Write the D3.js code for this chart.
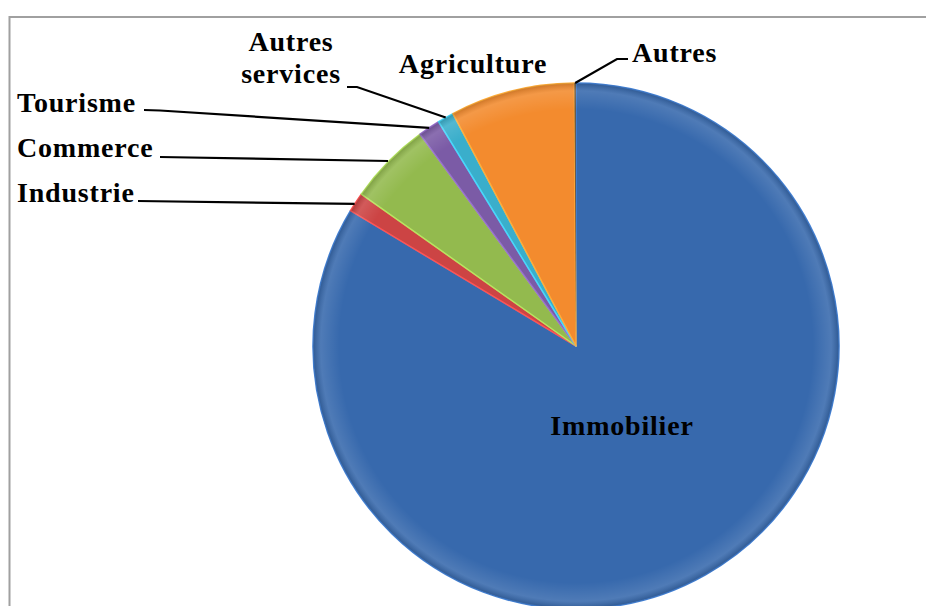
<!DOCTYPE html>
<html><head><meta charset="utf-8">
<script src="https://cdn.jsdelivr.net/npm/d3@7"></script>
<style>body{margin:0;background:#fff}svg{display:block}text{font-family:"Liberation Serif","Times New Roman",serif;font-weight:bold;fill:#000;letter-spacing:0.8px}</style>
</head><body><svg id="c" width="926" height="606"></svg>
<script>
const categories = ["Immobilier","Industrie","Commerce","Tourisme","Autres services","Agriculture","Autres"];
const values = [83.6, 1.2, 5.1, 1.35, 1.0, 7.65, 0.1];
const colors = ["#3769ad","#cc4444","#93ba4e","#7b5ba6","#3aaecb","#f38b2e","#6a5a4a"];

const svg = d3.select("#c");
const cx = 576, cy = 346, r = 263;

svg.append("rect").attr("x",9.5).attr("y",17).attr("width",930).attr("height",600)
  .attr("fill","#fff").attr("stroke","#a0a0a0").attr("stroke-width",2);

const defs = svg.append("defs");
const rg = defs.append("radialGradient").attr("id","shade").attr("gradientUnits","userSpaceOnUse")
  .attr("cx",cx).attr("cy",cy).attr("r",r);
rg.append("stop").attr("offset","0.9").attr("stop-color","#fff").attr("stop-opacity",0);
rg.append("stop").attr("offset","0.97").attr("stop-color","#fff").attr("stop-opacity",0.12);
rg.append("stop").attr("offset","1").attr("stop-color","#000").attr("stop-opacity",0.15);

const pie = d3.pie().sort(null).value(d=>d.v);
const data = pie(categories.map((c,i)=>({c, v:values[i], col:colors[i]})));
const arc = d3.arc().innerRadius(0).outerRadius(r);
const g = svg.append("g").attr("transform",`translate(${cx},${cy})`);
g.selectAll("path.s").data(data).join("path").attr("class","s")
  .attr("d",arc).attr("fill",d=>d.data.col)
  .attr("stroke",(d,i)=> i===6 ? "none" : d3.color(d.data.col).brighter(0.6)).attr("stroke-width",1.5).attr("stroke-linejoin","round");
g.append("circle").attr("r",r).attr("fill","url(#shade)").attr("transform",`translate(${-cx},${-cy})`).attr("cx",cx).attr("cy",cy);

function edge(i, frac){
  const d = data[i];
  const a = d.startAngle + (d.endAngle - d.startAngle)*frac;
  return [cx + r*Math.sin(a), cy - r*Math.cos(a)];
}
const fs = 28;
const lab = svg.append("g");
function text(t,x,y,anchor){ lab.append("text").attr("x",x).attr("y",y).attr("font-size",fs).attr("text-anchor",anchor||"start").text(t); }
function line(pts){ lab.append("path").attr("d",d3.line()(pts)).attr("fill","none").attr("stroke","#000").attr("stroke-width",2.2); }

text(categories[0], 622, 435, "middle");
text(categories[1], 17, 202);
line([[138,201], edge(1,0.4)]);
text(categories[2], 17, 157);
line([[160,157],[388,161]]);
text(categories[3], 17, 112);
line([[144,110],[160,110.5], edge(3,0.5)]);
text("Autres", 291, 51, "middle");
text("services", 291, 83, "middle");
line([[347,87],[357,87], edge(4,0.5)]);
text(categories[5], 473, 73, "middle");
text(categories[6], 632, 62);
line([edge(6,0.5),[617,59],[628,59]]);
</script></body></html>
